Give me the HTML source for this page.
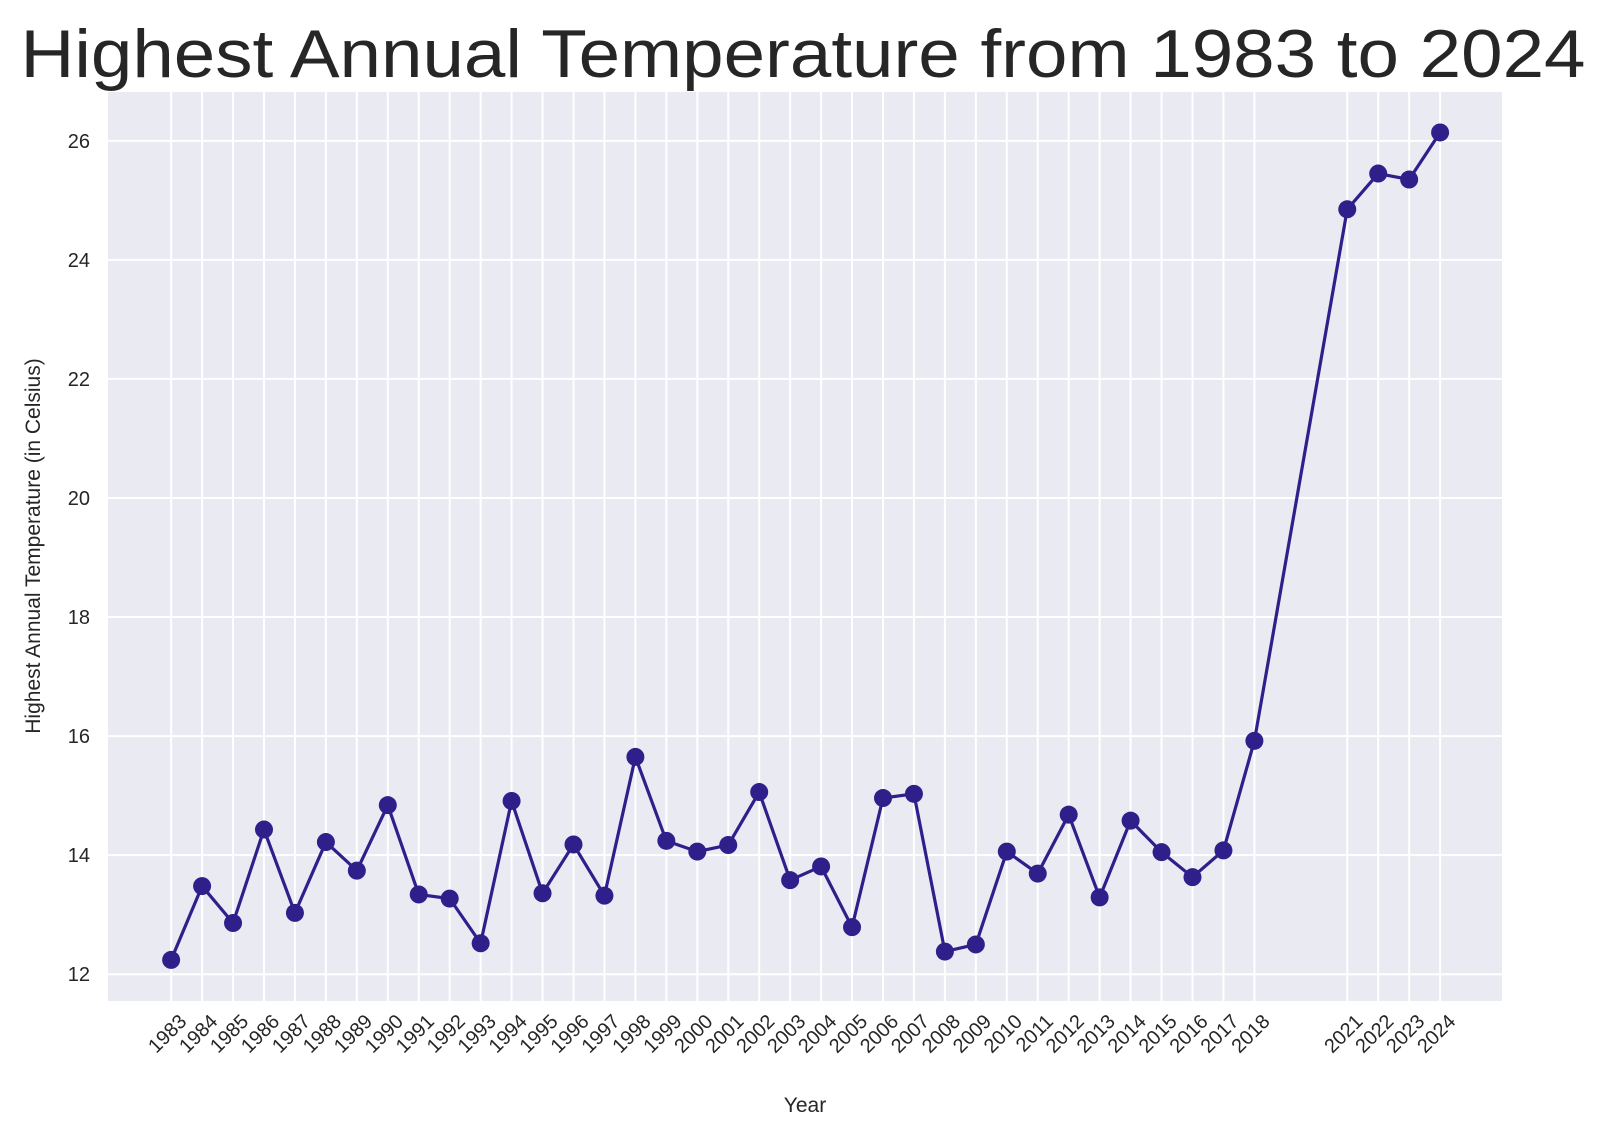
<!DOCTYPE html>
<html><head><meta charset="utf-8"><style>
body{margin:0;background:#fff;font-family:"Liberation Sans",Arial,sans-serif}
svg text{font-family:"Liberation Sans",Arial,sans-serif;fill:#262626}
</style></head><body>
<svg id="chart" width="1607" height="1134" viewBox="0 0 1607 1134" xmlns="http://www.w3.org/2000/svg">
<text x="803" y="77" font-size="68" text-anchor="middle" textLength="1565" lengthAdjust="spacingAndGlyphs">Highest Annual Temperature from 1983 to 2024</text>
<rect x="108" y="92" width="1394" height="909" fill="#eaeaf2"/>
<g id="grid"></g><g id="series"></g><g id="axes"></g>
<text x="805" y="1112" font-size="21" text-anchor="middle">Year</text>
<text transform="translate(40,546) rotate(-90)" font-size="21" text-anchor="middle">Highest Annual Temperature (in Celsius)</text>
</svg>
<script>
const years=[1983,1984,1985,1986,1987,1988,1989,1990,1991,1992,1993,1994,1995,1996,1997,1998,1999,2000,2001,2002,2003,2004,2005,2006,2007,2008,2009,2010,2011,2012,2013,2014,2015,2016,2017,2018,2021,2022,2023,2024];
const temps=[12.24,13.48,12.86,14.43,13.03,14.22,13.74,14.84,13.34,13.27,12.52,14.91,13.36,14.18,13.32,15.65,14.24,14.06,14.17,15.06,13.58,13.81,12.79,14.96,15.03,12.38,12.50,14.06,13.69,14.68,13.29,14.58,14.05,13.63,14.08,15.92,24.85,25.45,25.35,26.14];
const yTicks=[12,14,16,18,20,22,24,26];
const L=108,R=1502,T=92,B=1001;
const x0=1980.96,x1=2026.0,y0=11.55,y1=26.82;
const sx=v=>L+(v-x0)/(x1-x0)*(R-L);
const sy=v=>B-(v-y0)/(y1-y0)*(B-T);
const NS="http://www.w3.org/2000/svg";
const grid=document.getElementById('grid'),axes=document.getElementById('axes'),ser=document.getElementById('series');
function mk(tag,attrs,parent){const e=document.createElementNS(NS,tag);for(const k in attrs)e.setAttribute(k,attrs[k]);parent.appendChild(e);return e;}
yTicks.forEach(t=>{
 const l=mk('line',{x1:L,x2:R,y1:sy(t),y2:sy(t),stroke:'#fff','stroke-width':2},grid);
 
 
 const tx=mk('text',{x:L-18,y:sy(t)+7,'font-size':20,'text-anchor':'end'},axes);
 tx.textContent=t;
 
 
});
years.forEach(y=>{
 const l=mk('line',{x1:sx(y),x2:sx(y),y1:T,y2:B,stroke:'#fff','stroke-width':2},grid);
 
 
 const x=sx(y)+7,yy=1013;
 const tx=mk('text',{x:x,y:yy,'font-size':20,'text-anchor':'end',transform:`rotate(-45 ${x} ${yy})`,'dominant-baseline':'hanging'},axes);
 tx.textContent=y;
 
 
});
const pts=years.map((y,i)=>sx(y)+','+sy(temps[i])).join(' ');
const pl=mk('polyline',{points:pts,fill:'none',stroke:'#2e1f8a','stroke-width':3.2,'stroke-linejoin':'round'},ser);


years.forEach((y,i)=>{
 const c=mk('circle',{cx:sx(y),cy:sy(temps[i]),r:9,fill:'#2e1f8a'},ser);
 
 
});
</script>
</body></html>
